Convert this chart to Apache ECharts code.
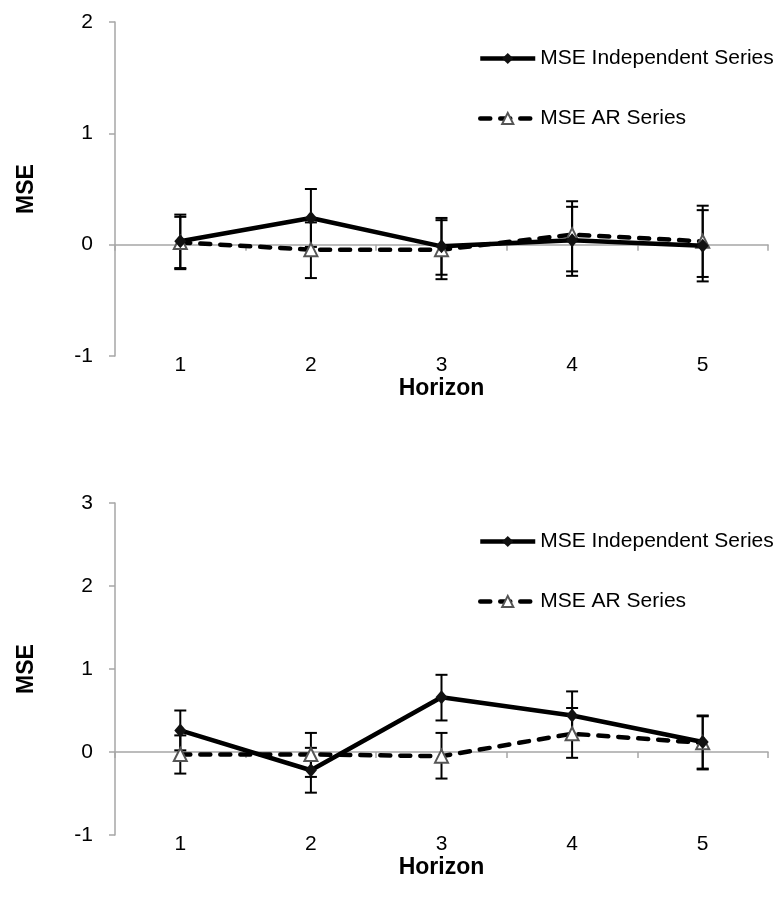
<!DOCTYPE html>
<html>
<head>
<meta charset="utf-8">
<script src="https://cdn.jsdelivr.net/npm/echarts@6/dist/echarts.min.js"></script>
<style>html,body{margin:0;padding:0;background:#fff;}#c{width:774px;height:916px;}</style>
</head>
<body>
<div id="c"></div>
<script>
// ---- data ----
var categories = ['1', '2', '3', '4', '5'];
var seriesNames = ['MSE Independent Series', 'MSE AR Series'];
var yTicksTop = { min: -1, max: 2, interval: 1 };
var yTicksBottom = { min: -1, max: 3, interval: 1 };

// top panel
var topInd = [0.03, 0.24, -0.015, 0.04, -0.01];
var topIndLow = [-0.21, -0.02, -0.27, -0.28, -0.33];
var topIndHigh = [0.27, 0.50, 0.24, 0.34, 0.31];
var topAR = [0.02, -0.045, -0.045, 0.09, 0.03];
var topARLow = [-0.22, -0.30, -0.31, -0.24, -0.29];
var topARHigh = [0.25, 0.20, 0.22, 0.39, 0.35];

// bottom panel
var botInd = [0.26, -0.22, 0.66, 0.44, 0.12];
var botIndLow = [0.02, -0.49, 0.38, 0.15, -0.20];
var botIndHigh = [0.50, 0.05, 0.93, 0.73, 0.44];
var botAR = [-0.03, -0.03, -0.05, 0.22, 0.11];
var botARLow = [-0.26, -0.30, -0.32, -0.07, -0.21];
var botARHigh = [0.20, 0.23, 0.23, 0.53, 0.43];

// ---- styles ----
var FONT = "'Liberation Sans', Arial, sans-serif";
var AXIS_GREY = '#a6a6a6';

function errData(low, high) {
  return low.map(function (v, i) { return [i, v, high[i]]; });
}
function errRender(params, api) {
  var i = api.value(0);
  var lo = api.coord([i, api.value(1)]);
  var hi = api.coord([i, api.value(2)]);
  var cap = 6;
  var st = { stroke: '#000', lineWidth: 2 };
  return {
    type: 'group',
    children: [
      { type: 'line', shape: { x1: lo[0], y1: lo[1], x2: hi[0], y2: hi[1] }, style: st },
      { type: 'line', shape: { x1: lo[0] - cap, y1: lo[1], x2: lo[0] + cap, y2: lo[1] }, style: st },
      { type: 'line', shape: { x1: hi[0] - cap, y1: hi[1], x2: hi[0] + cap, y2: hi[1] }, style: st }
    ]
  };
}

function makeXAxes(g) {
  return [
    {
      gridIndex: g, type: 'category', data: categories, position: 'bottom',
      boundaryGap: true,
      axisLine: { show: true, onZero: true, lineStyle: { color: AXIS_GREY, width: 1.5 } },
      axisTick: { show: true, alignWithLabel: false, length: 6, lineStyle: { color: AXIS_GREY, width: 1.5 } },
      axisLabel: { show: false },
      splitLine: { show: false }
    },
    {
      gridIndex: g, type: 'category', data: categories, position: 'bottom',
      axisLine: { show: false, onZero: false },
      axisTick: { show: false },
      axisLabel: { show: true, color: '#000', fontSize: 21, fontFamily: FONT, margin: -1 },
      splitLine: { show: false },
      name: 'Horizon', nameLocation: 'middle', nameGap: 18,
      nameTextStyle: { color: '#000', fontSize: 23, fontWeight: 'bold', fontFamily: FONT }
    }
  ];
}
function makeYAxis(g, t) {
  return {
    gridIndex: g, type: 'value', min: t.min, max: t.max, interval: t.interval,
    axisLine: { show: true, lineStyle: { color: AXIS_GREY, width: 1.5 } },
    axisTick: { show: true, length: 6, lineStyle: { color: AXIS_GREY, width: 1.5 } },
    axisLabel: { color: '#000', fontSize: 21, fontFamily: FONT, margin: 22 },
    splitLine: { show: false },
    name: 'MSE', nameLocation: 'middle', nameGap: 77, nameRotate: 90,
    nameTextStyle: { color: '#000', fontSize: 23, fontWeight: 'bold', fontFamily: FONT }
  };
}

function panelSeries(xi, yi, ind, indLow, indHigh, ar, arLow, arHigh) {
  return [
    {
      type: 'custom', xAxisIndex: xi, yAxisIndex: yi, renderItem: errRender,
      data: errData(arLow, arHigh), encode: { x: 0, y: [1, 2] }, z: 3, silent: true
    },
    {
      type: 'custom', xAxisIndex: xi, yAxisIndex: yi, renderItem: errRender,
      data: errData(indLow, indHigh), encode: { x: 0, y: [1, 2] }, z: 3, silent: true
    },
    {
      name: seriesNames[1], type: 'line', xAxisIndex: xi, yAxisIndex: yi, data: ar,
      symbol: 'triangle', symbolSize: 13, z: 4,
      lineStyle: { color: '#000', width: 4.5, type: [10, 10], cap: 'round' },
      itemStyle: { color: '#fff', borderColor: '#555', borderWidth: 2 }
    },
    {
      name: seriesNames[0], type: 'line', xAxisIndex: xi, yAxisIndex: yi, data: ind,
      symbol: 'diamond', symbolSize: [12, 14], z: 5,
      lineStyle: { color: '#000', width: 4.5 },
      itemStyle: { color: '#111', borderColor: '#111', borderWidth: 0 }
    }
  ];
}

function makeLegend(top) {
  return {
    data: [
      { name: seriesNames[0] },
      { name: seriesNames[1] }
    ],
    orient: 'vertical', left: 478, top: top, itemGap: 39, padding: 0,
    itemWidth: 55, itemHeight: 14,
    lineStyle: { width: 4.5 },
    textStyle: { color: '#000', fontSize: 21, fontFamily: FONT },
    selectedMode: false
  };
}

var chart = echarts.init(document.getElementById('c'), null, { renderer: 'canvas' });
chart.setOption({
  backgroundColor: '#fff',
  animation: false,
  legend: [makeLegend(48), makeLegend(531)],
  grid: [
    { left: 115, top: 22, width: 653, height: 334 },
    { left: 115, top: 503, width: 653, height: 332 }
  ],
  xAxis: makeXAxes(0).concat(makeXAxes(1)),
  yAxis: [makeYAxis(0, yTicksTop), makeYAxis(1, yTicksBottom)],
  series: panelSeries(0, 0, topInd, topIndLow, topIndHigh, topAR, topARLow, topARHigh)
    .concat(panelSeries(2, 1, botInd, botIndLow, botIndHigh, botAR, botARLow, botARHigh))
});
</script>
</body>
</html>
